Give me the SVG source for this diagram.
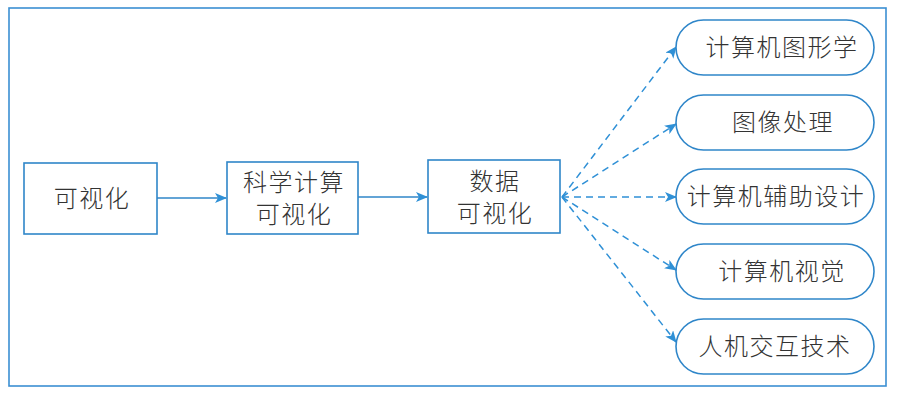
<svg xmlns="http://www.w3.org/2000/svg" width="903" height="401" viewBox="0 0 903 401">
<defs>
<style>
.frame{fill:none;stroke:#3b8fd3;stroke-width:1.6}
.box{fill:#fff;stroke:#2f86c9;stroke-width:1.6}
.pill{fill:#fff;stroke:#2f86c9;stroke-width:1.6}
.t{font-family:"Noto Sans CJK SC","Noto Sans CJK JP",sans-serif;font-size:24px;font-weight:300;fill:#333;text-anchor:middle;letter-spacing:1.5px}
.solid{fill:none;stroke:#2f86c9;stroke-width:1.6}
.dash{fill:none;stroke:#2f90d6;stroke-width:1.5;stroke-dasharray:7 5}
</style>
<marker id="ah" viewBox="0 0 12 10" refX="11" refY="5" markerWidth="12" markerHeight="10" markerUnits="userSpaceOnUse" orient="auto">
<path d="M0,0 L12,5 L0,10 L3,5 Z" fill="#2f90d6"/>
</marker>
</defs>
<rect class="frame" x="9" y="8" width="877" height="378"/>
<g id="connectors">
<line class="solid" x1="157" y1="198" x2="226" y2="198" marker-end="url(#ah)"/>
<line class="solid" x1="358" y1="197" x2="427" y2="197" marker-end="url(#ah)"/>
<line class="dash" x1="562" y1="197" x2="676" y2="47" marker-end="url(#ah)"/>
<line class="dash" x1="562" y1="197" x2="676" y2="124" marker-end="url(#ah)"/>
<line class="dash" x1="562" y1="197" x2="676" y2="197" marker-end="url(#ah)"/>
<line class="dash" x1="562" y1="197" x2="676" y2="270" marker-end="url(#ah)"/>
<line class="dash" x1="562" y1="197" x2="676" y2="342" marker-end="url(#ah)"/>
</g>
<g id="n1"><rect class="box" x="24" y="163" width="133" height="71"/><text class="t" x="92" y="207">可视化</text></g>
<g id="n2"><rect class="box" x="227" y="162" width="131" height="72"/><text class="t" x="294" y="191">科学计算<tspan x="294" dy="32">可视化</tspan></text></g>
<g id="n3"><rect class="box" x="428" y="160" width="132" height="73"/><text class="t" x="495" y="190">数据<tspan x="495" dy="32">可视化</tspan></text></g>
<g id="p1"><rect class="pill" x="676" y="20" width="198" height="55" rx="27.5"/><text class="t" x="782" y="56">计算机图形学</text></g>
<g id="p2"><rect class="pill" x="676" y="95" width="198" height="55" rx="27.5"/><text class="t" x="783" y="131">图像处理</text></g>
<g id="p3"><rect class="pill" x="676" y="169" width="198" height="55" rx="27.5"/><text class="t" x="776" y="205">计算机辅助设计</text></g>
<g id="p4"><rect class="pill" x="676" y="244" width="198" height="55" rx="27.5"/><text class="t" x="782" y="280">计算机视觉</text></g>
<g id="p5"><rect class="pill" x="676" y="319" width="198" height="55" rx="27.5"/><text class="t" x="775" y="355">人机交互技术</text></g>
</svg>
